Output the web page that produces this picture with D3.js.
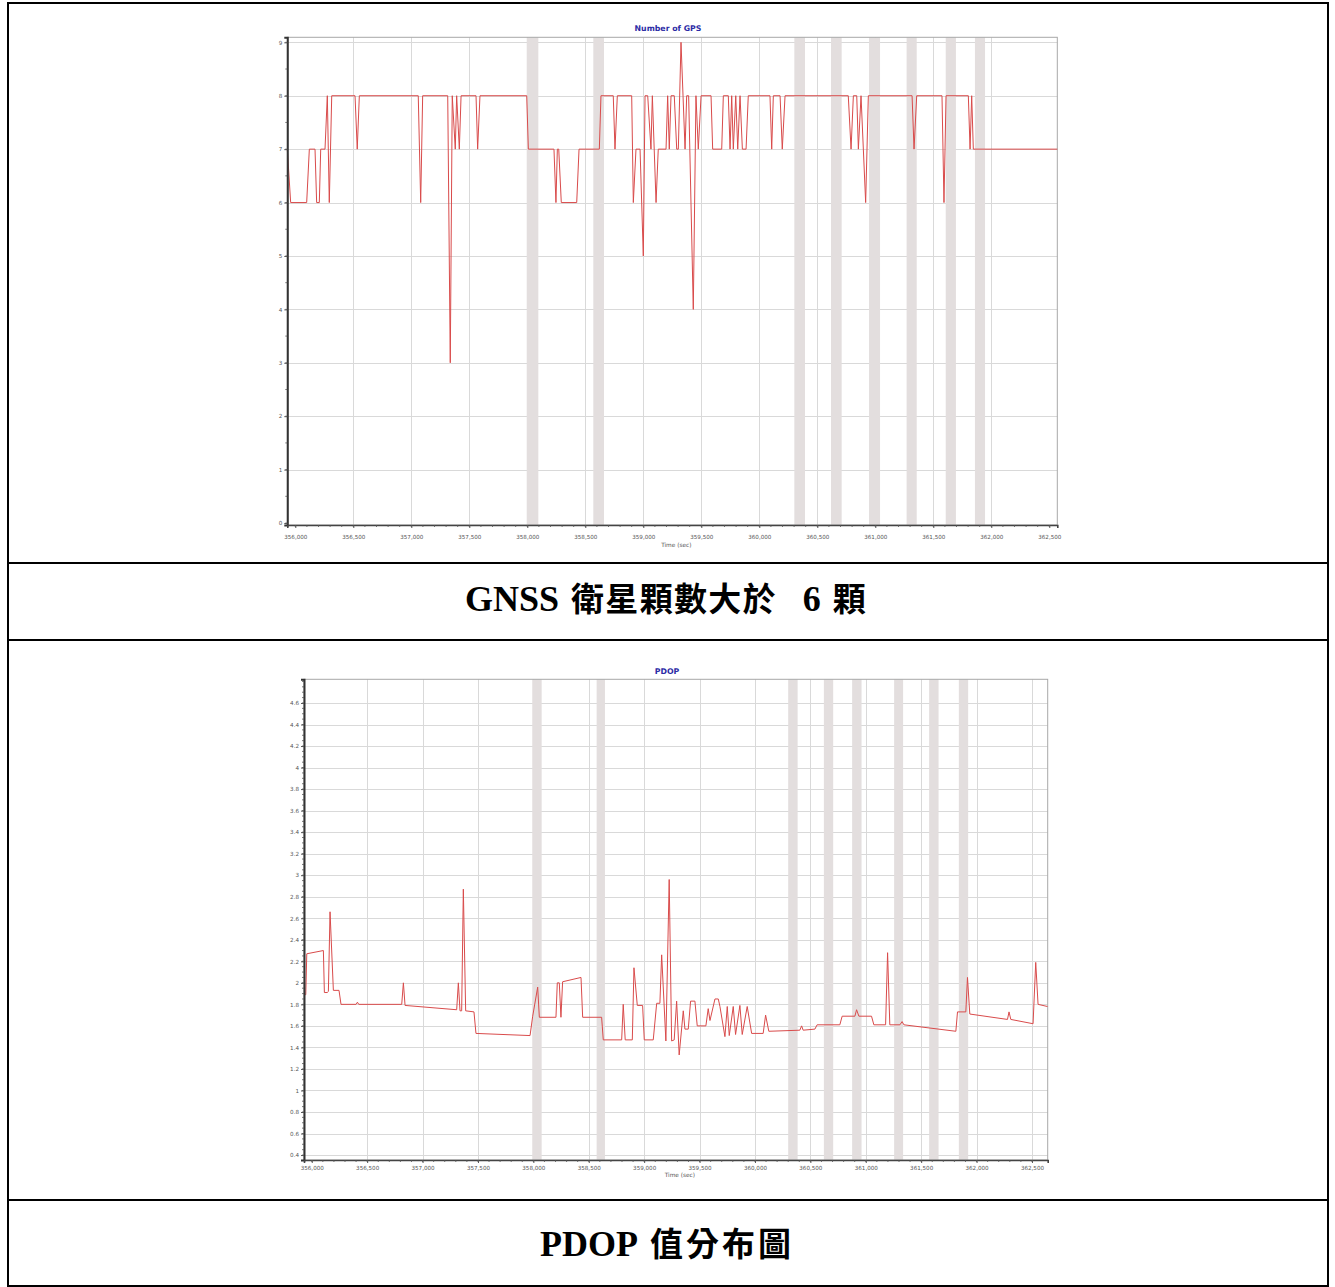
<!DOCTYPE html>
<html>
<head>
<meta charset="utf-8">
<script src="https://cdn.jsdelivr.net/npm/d3@7"></script>
<style>
  html, body { margin: 0; padding: 0; background: #fff; }
  svg { display: block; }
</style>
</head>
<body>
<svg id="page" width="1335" height="1287"></svg>
<script>
// ---------------- DATA ----------------
const xTickValues = [356000, 356500, 357000, 357500, 358000, 358500, 359000, 359500, 360000, 360500, 361000, 361500, 362000, 362500];
const gpsYTicks = [0, 1, 2, 3, 4, 5, 6, 7, 8, 9];
const pdopYTicks = [0.4, 0.6, 0.8, 1, 1.2, 1.4, 1.6, 1.8, 2, 2.2, 2.4, 2.6, 2.8, 3, 3.2, 3.4, 3.6, 3.8, 4, 4.2, 4.4, 4.6];

const gpsTime = [355931, 355960, 356098, 356121, 356170, 356184, 356207, 356219, 356256, 356276, 356293, 356314, 356515, 356534, 356552, 357060, 357081, 357098, 357314, 357336, 357353, 357379, 357391, 357414, 357429, 357558, 357572, 357592, 357995, 358009, 358230, 358247, 358259, 358271, 358293, 358426, 358446, 358621, 358635, 358741, 358756, 358776, 358900, 358914, 358937, 358972, 359000, 359015, 359038, 359066, 359078, 359110, 359129, 359196, 359210, 359224, 359239, 359267, 359288, 359302, 359325, 359360, 359374, 359391, 359431, 359454, 359474, 359498, 359584, 359598, 359676, 359690, 359733, 359748, 359762, 359776, 359797, 359814, 359834, 359854, 359886, 359905, 360092, 360107, 360121, 360179, 360198, 360222, 360767, 360791, 360811, 360840, 360854, 360877, 360917, 360940, 361317, 361334, 361357, 361575, 361592, 361610, 361802, 361817, 361831, 361845, 362569];
const gpsCount = [7, 6, 6, 7, 7, 6, 6, 7, 7, 8, 6, 8, 8, 7, 8, 8, 6, 8, 8, 3, 8, 7, 8, 7, 8, 8, 7, 8, 8, 7, 7, 6, 7, 7, 6, 6, 7, 7, 8, 8, 7, 8, 8, 6, 7, 7, 5, 8, 8, 7, 8, 6, 7, 7, 8, 7, 8, 8, 7, 7, 9, 7, 8, 8, 4, 8, 7, 8, 8, 7, 7, 8, 8, 7, 8, 7, 8, 7, 8, 7, 7, 8, 8, 7, 8, 8, 7, 8, 8, 7, 8, 8, 7, 8, 6, 8, 8, 7, 8, 8, 6, 8, 8, 7, 8, 7, 7];

const pdopTime = [355933, 355946, 355955, 356105, 356114, 356140, 356150, 356165, 356195, 356246, 356264, 356400, 356412, 356424, 356812, 356827, 356842, 357308, 357323, 357338, 357353, 357368, 357389, 357464, 357482, 357970, 357994, 358039, 358054, 358204, 358216, 358234, 358249, 358264, 358430, 358445, 358616, 358631, 358797, 358811, 358829, 358893, 358908, 358938, 358986, 359001, 359082, 359113, 359142, 359158, 359196, 359226, 359248, 359271, 359293, 359316, 359353, 359368, 359398, 359419, 359458, 359479, 359557, 359578, 359594, 359639, 359669, 359684, 359729, 359750, 359768, 359804, 359825, 359864, 359885, 359930, 359970, 360074, 360096, 360125, 360405, 360421, 360435, 360541, 360561, 360766, 360787, 360902, 360917, 360938, 361052, 361073, 361179, 361197, 361217, 361308, 361328, 361344, 361813, 361828, 361903, 361918, 361939, 362279, 362293, 362309, 362510, 362534, 362555, 362640];
const pdopValue = [1.89, 1.89, 2.27, 2.30, 1.91, 1.91, 1.92, 2.66, 1.93, 1.93, 1.80, 1.80, 1.82, 1.80, 1.80, 2.00, 1.79, 1.75, 2.00, 1.74, 1.74, 2.87, 1.74, 1.73, 1.53, 1.51, 1.69, 1.96, 1.68, 1.68, 2.00, 2.00, 1.68, 2.01, 2.05, 1.68, 1.68, 1.47, 1.47, 1.80, 1.47, 1.47, 2.14, 1.79, 1.79, 1.47, 1.47, 1.81, 1.81, 2.26, 1.46, 2.96, 1.46, 1.47, 1.83, 1.33, 1.74, 1.57, 1.57, 1.83, 1.83, 1.60, 1.60, 1.76, 1.65, 1.85, 1.85, 1.78, 1.50, 1.78, 1.51, 1.78, 1.52, 1.79, 1.52, 1.78, 1.53, 1.53, 1.70, 1.55, 1.56, 1.60, 1.56, 1.57, 1.61, 1.61, 1.69, 1.69, 1.75, 1.69, 1.69, 1.61, 1.61, 2.28, 1.61, 1.61, 1.64, 1.61, 1.55, 1.73, 1.73, 2.05, 1.71, 1.66, 1.73, 1.66, 1.62, 2.19, 1.80, 1.78];

const gpsBandStart = [357995, 358569, 360302, 360618, 360946, 361270, 361607, 361859];
const gpsBandEnd   = [358095, 358661, 360394, 360710, 361041, 361357, 361695, 361946];
const pdopBandStart = [357990, 358571, 360300, 360622, 360877, 361256, 361572, 361840];
const pdopBandEnd   = [358075, 358646, 360385, 360706, 360962, 361337, 361657, 361924];

const gpsTitle = "Number of GPS";
const pdopTitle = "PDOP";
const xAxisTitle = "Time (sec)";
// caption pieces: [text, kind] (latin / cjk)
const caption1 = [["GNSS", "latin"], ["衛星顆數大於", "cjk"], ["6", "latin"], ["顆", "cjk"]];
const caption2 = [["PDOP", "latin"], ["值分布圖", "cjk"]];

// ---------------- DRAW ----------------
const svg = d3.select("#page");

// table frame
const frame = svg.append("g").attr("stroke", "#000").attr("stroke-width", 2);
frame.append("rect").attr("x", 8).attr("y", 3).attr("width", 1320).attr("height", 1283).attr("fill", "none");
[563, 640, 1200].forEach(y => frame.append("line").attr("x1", 8).attr("x2", 1328).attr("y1", y).attr("y2", y));

function drawChart(cfg) {
  const g = svg.append("g");
  const x = d3.scaleLinear().domain(cfg.xDomain).range([cfg.left, cfg.right]);
  const y = d3.scaleLinear().domain(cfg.yDomain).range([cfg.bottom, cfg.top]);

  g.append("rect").attr("x", cfg.left).attr("y", cfg.top)
    .attr("width", cfg.right - cfg.left).attr("height", cfg.bottom - cfg.top)
    .attr("fill", "#fff");

  // horizontal grid
  g.append("g").selectAll("line").data(cfg.yTicks.filter(v => y(v) < cfg.bottom - 3)).join("line")
    .attr("x1", cfg.left).attr("x2", cfg.right)
    .attr("y1", d => Math.round(y(d)) + 0.5).attr("y2", d => Math.round(y(d)) + 0.5)
    .attr("stroke", "#d9d9d9").attr("stroke-width", 1);

  // vertical grid
  g.append("g").selectAll("line").data(cfg.xGrid).join("line")
    .attr("x1", d => Math.round(x(d)) + 0.5).attr("x2", d => Math.round(x(d)) + 0.5)
    .attr("y1", cfg.top).attr("y2", cfg.bottom)
    .attr("stroke", "#d9d9d9").attr("stroke-width", 1);

  // shaded bands
  g.append("g").selectAll("rect").data(d3.range(cfg.bandStart.length)).join("rect")
    .attr("x", i => x(cfg.bandStart[i])).attr("y", cfg.top)
    .attr("width", i => x(cfg.bandEnd[i]) - x(cfg.bandStart[i]))
    .attr("height", cfg.bottom - cfg.top)
    .attr("fill", "#e3dede");

  g.append("rect").attr("x", cfg.left).attr("y", cfg.top)
    .attr("width", cfg.right - cfg.left).attr("height", cfg.bottom - cfg.top)
    .attr("fill", "none").attr("stroke", "#a8a8a8").attr("stroke-width", 1);

  // data line
  const pts = d3.range(cfg.time.length).map(i => [cfg.time[i], cfg.value[i]]);
  g.append("path").datum(pts)
    .attr("d", d3.line().x(d => x(d[0])).y(d => y(d[1])))
    .attr("fill", "none").attr("stroke", "#d94b4b").attr("stroke-width", 1)
    .attr("stroke-linejoin", "miter");

  // left axis
  const yAxis = d3.axisLeft(y).tickValues(cfg.yTicks).tickSize(3).tickFormat(cfg.yFormat);
  const ya = g.append("g").attr("transform", `translate(${cfg.left},0)`).call(yAxis);
  ya.select(".domain").attr("stroke", "#333").attr("stroke-width", 2);
  ya.selectAll(".tick line").attr("stroke", "#555");
  ya.selectAll("text").attr("fill", "#555").attr("font-size", 5.6)
    .attr("font-family", "'DejaVu Sans', sans-serif").attr("x", -5);
  g.append("g").selectAll("line").data(cfg.yMinor).join("line")
    .attr("x1", cfg.left - 2).attr("x2", cfg.left)
    .attr("y1", d => y(d)).attr("y2", d => y(d))
    .attr("stroke", "#555").attr("stroke-width", 0.8);

  // bottom axis
  const xAxis = d3.axisBottom(x).tickValues(xTickValues).tickSize(3).tickFormat(d3.format(","));
  const xa = g.append("g").attr("transform", `translate(0,${cfg.bottom})`).call(xAxis);
  xa.select(".domain").attr("stroke", "#444").attr("stroke-width", 1.6);
  xa.selectAll(".tick line").attr("stroke", "#555");
  xa.selectAll("text").attr("fill", "#555").attr("font-size", 5.6)
    .attr("font-family", "'DejaVu Sans', sans-serif").attr("y", cfg.labelY);
  g.append("g").selectAll("line").data(cfg.xMinor).join("line")
    .attr("x1", d => x(d)).attr("x2", d => x(d))
    .attr("y1", cfg.bottom).attr("y2", cfg.bottom + 2)
    .attr("stroke", "#555").attr("stroke-width", 0.8);

  g.append("text").attr("x", (cfg.left + cfg.right) / 2 + 4).attr("y", cfg.bottom + cfg.titleOffset)
    .attr("text-anchor", "middle").attr("font-size", 5.8).attr("fill", "#555")
    .attr("font-family", "'DejaVu Sans', sans-serif").text(xAxisTitle);

  g.append("text").attr("x", cfg.titleX).attr("y", cfg.titleY)
    .attr("text-anchor", "middle").attr("font-size", 7.8).attr("font-weight", "bold")
    .attr("fill", "#2b2ba5").attr("font-family", "'DejaVu Sans', sans-serif").text(cfg.title);
}

const minorX = d3.range(356000, 362600, 100);

drawChart({
  left: 287.3, right: 1057.3, top: 37.3, bottom: 525,
  xDomain: [355931, 362569], yDomain: [-0.037, 9.094],
  yTicks: gpsYTicks, yFormat: d3.format("d"),
  yMinor: d3.range(0, 9.01, 0.5),
  xGrid: xTickValues.filter(v => v > 356000 && v < 362500),
  xMinor: minorX.filter(v => v < 362569),
  time: gpsTime, value: gpsCount,
  bandStart: gpsBandStart, bandEnd: gpsBandEnd,
  labelY: 10, titleOffset: 22,
  title: gpsTitle, titleX: 668, titleY: 31
});

drawChart({
  left: 304, right: 1047.7, top: 679.3, bottom: 1160,
  xDomain: [355930, 362642], yDomain: [0.354, 4.82],
  yTicks: pdopYTicks, yFormat: d => d3.format("")(+d.toFixed(1)),
  yMinor: d3.range(0.4, 4.81, 0.05),
  xGrid: xTickValues.filter(v => v > 356000),
  xMinor: minorX,
  time: pdopTime, value: pdopValue,
  bandStart: pdopBandStart, bandEnd: pdopBandEnd,
  labelY: 6, titleOffset: 17,
  title: pdopTitle, titleX: 667, titleY: 674
});

// captions: pieces laid out left to right, with Word-like spacing between scripts
function caption(pieces, startX, baseline, cjkPitch) {
  const t = svg.append("text").attr("y", baseline).attr("fill", "#000").attr("font-weight", "bold");
  let x = startX;
  pieces.forEach(([txt, kind], i) => {
    const ts = t.append("tspan").attr("x", x).text(txt);
    if (kind === "latin") {
      ts.attr("font-family", "'Liberation Serif', 'Times New Roman', serif").attr("font-size", 36);
      const w = ts.node().getComputedTextLength();
      x += w + 12;
    } else {
      ts.attr("font-family", "'Noto Sans CJK TC', 'Noto Sans CJK SC', sans-serif").attr("font-size", 33);
      const len = txt.length * cjkPitch;
      ts.attr("textLength", len - (cjkPitch - 33)).attr("lengthAdjust", "spacing");
      x += len + 26;
    }
  });
}
caption(caption1, 465, 611, 34.3);
caption(caption2, 540, 1256, 36);
</script>
</body>
</html>
